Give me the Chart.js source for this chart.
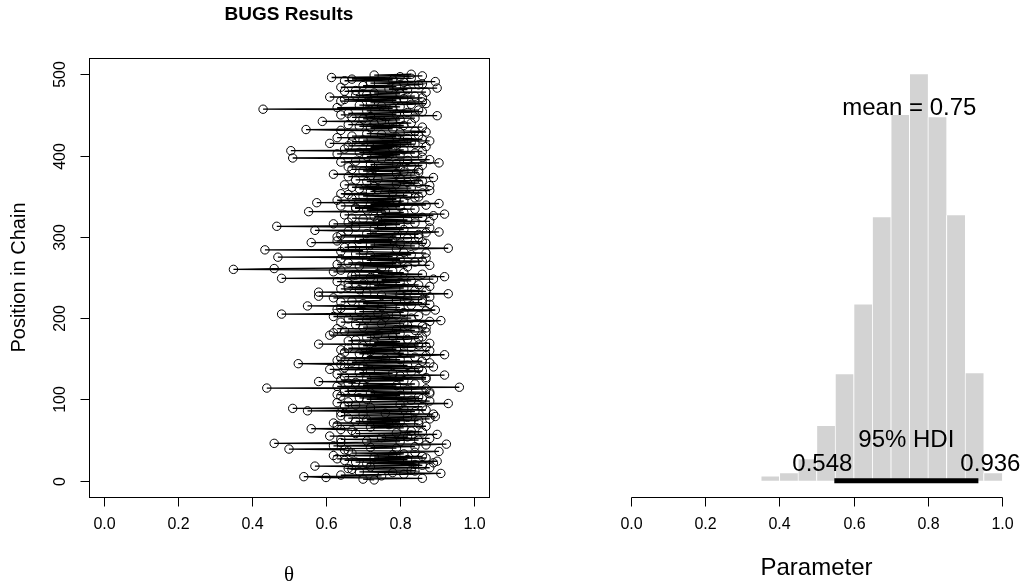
<!DOCTYPE html>
<html>
<head>
<meta charset="utf-8">
<script src="https://cdn.jsdelivr.net/npm/chart.js@4.4.1/dist/chart.umd.min.js"></script>
<style>
    html, body { margin: 0; padding: 0; background: #fff; }
    #wrap { position: relative; width: 1023px; height: 587px; overflow: hidden; }
    #traceChart { position: absolute; left: 0; top: 0; }
    #histChart { position: absolute; left: 511px; top: 0; }
</style>
</head>
<body>
<div id="wrap">
    <canvas id="traceChart" width="511" height="587"></canvas>
    <canvas id="histChart" width="512" height="587"></canvas>
</div>
<script>
// theta samples, position 1..500 in the chain
const thetaSamples = [
    0.73, 0.70, 0.86, 0.60, 0.54, 0.75, 0.64, 0.81, 0.91, 0.78, 0.69, 0.84, 0.83, 0.67, 0.66, 0.88, 0.72, 0.57, 0.86, 0.84,
    0.71, 0.89, 0.68, 0.90, 0.65, 0.82, 0.63, 0.87, 0.73, 0.86, 0.62, 0.78, 0.81, 0.67, 0.84, 0.905, 0.66, 0.65, 0.50, 0.79,
    0.72, 0.84, 0.62, 0.87, 0.925, 0.46, 0.64, 0.80, 0.71, 0.85, 0.64, 0.88, 0.75, 0.82, 0.61, 0.83, 0.90, 0.68, 0.79, 0.86,
    0.83, 0.67, 0.64, 0.56, 0.81, 0.72, 0.87, 0.63, 0.77, 0.85, 0.62, 0.80, 0.68, 0.85, 0.71, 0.88, 0.66, 0.82, 0.895, 0.64,
    0.70, 0.89, 0.76, 0.64, 0.84, 0.55, 0.87, 0.81, 0.51, 0.72, 0.86, 0.65, 0.68, 0.80, 0.93, 0.63, 0.66, 0.88, 0.83, 0.71,
    0.86, 0.69, 0.85, 0.64, 0.80, 0.63, 0.88, 0.72, 0.88, 0.65, 0.67, 0.82, 0.87, 0.44, 0.96, 0.63, 0.79, 0.70, 0.84, 0.66,
    0.68, 0.58, 0.81, 0.64, 0.87, 0.71, 0.87, 0.65, 0.80, 0.92, 0.63, 0.78, 0.69, 0.83, 0.86, 0.72, 0.61, 0.85, 0.65, 0.89,
    0.70, 0.82, 0.64, 0.525, 0.88, 0.67, 0.86, 0.63, 0.80, 0.76, 0.64, 0.84, 0.71, 0.87, 0.92, 0.69, 0.81, 0.65, 0.72, 0.88,
    0.64, 0.79, 0.66, 0.83, 0.87, 0.70, 0.85, 0.58, 0.88, 0.73, 0.80, 0.66, 0.68, 0.82, 0.85, 0.71, 0.86, 0.78, 0.61, 0.74,
    0.80, 0.62, 0.87, 0.65, 0.84, 0.79, 0.63, 0.87, 0.70, 0.86, 0.82, 0.68, 0.75, 0.81, 0.64, 0.88, 0.91, 0.71, 0.66, 0.83,
    0.76, 0.62, 0.85, 0.79, 0.48, 0.74, 0.81, 0.69, 0.87, 0.895, 0.63, 0.64, 0.80, 0.75, 0.55, 0.83, 0.88, 0.70, 0.86, 0.64,
    0.67, 0.79, 0.86, 0.82, 0.62, 0.88, 0.58, 0.75, 0.80, 0.93, 0.71, 0.58, 0.87, 0.84, 0.69, 0.64, 0.81, 0.66, 0.88, 0.73,
    0.85, 0.70, 0.66, 0.80, 0.63, 0.83, 0.75, 0.89, 0.48, 0.72, 0.92, 0.67, 0.68, 0.86, 0.74, 0.81, 0.62, 0.78, 0.64, 0.35,
    0.46, 0.75, 0.82, 0.69, 0.88, 0.63, 0.79, 0.66, 0.84, 0.86, 0.71, 0.80, 0.64, 0.87, 0.47, 0.78, 0.72, 0.83, 0.68, 0.87,
    0.81, 0.64, 0.70, 0.435, 0.79, 0.93, 0.65, 0.67, 0.84, 0.72, 0.80, 0.87, 0.56, 0.86, 0.63, 0.78, 0.69, 0.82, 0.85, 0.63,
    0.79, 0.64, 0.85, 0.71, 0.87, 0.905, 0.66, 0.57, 0.81, 0.73, 0.88, 0.68, 0.467, 0.75, 0.80, 0.62, 0.84, 0.66, 0.88, 0.74,
    0.82, 0.70, 0.67, 0.86, 0.73, 0.89, 0.65, 0.92, 0.75, 0.81, 0.553, 0.76, 0.71, 0.84, 0.68, 0.68, 0.80, 0.64, 0.87, 0.72,
    0.905, 0.575, 0.77, 0.81, 0.63, 0.79, 0.67, 0.84, 0.85, 0.70, 0.82, 0.66, 0.64, 0.86, 0.78, 0.72, 0.88, 0.74, 0.69, 0.83,
    0.67, 0.73, 0.88, 0.65, 0.79, 0.85, 0.82, 0.71, 0.86, 0.68, 0.74, 0.80, 0.89, 0.66, 0.72, 0.84, 0.62, 0.79, 0.85, 0.81,
    0.70, 0.85, 0.67, 0.73, 0.80, 0.66, 0.83, 0.86, 0.72, 0.79, 0.905, 0.64, 0.68, 0.82, 0.88, 0.75, 0.51, 0.86, 0.71, 0.77,
    0.80, 0.63, 0.84, 0.69, 0.86, 0.505, 0.81, 0.65, 0.78, 0.72, 0.87, 0.66, 0.79, 0.84, 0.61, 0.83, 0.67, 0.88, 0.70, 0.86,
    0.82, 0.63, 0.79, 0.67, 0.85, 0.75, 0.71, 0.80, 0.87, 0.84, 0.64, 0.546, 0.78, 0.72, 0.86, 0.69, 0.81, 0.66, 0.73, 0.83,
    0.78, 0.59, 0.75, 0.80, 0.70, 0.84, 0.67, 0.72, 0.90, 0.64, 0.79, 0.66, 0.82, 0.86, 0.71, 0.85, 0.43, 0.78, 0.63, 0.80,
    0.75, 0.69, 0.83, 0.87, 0.72, 0.86, 0.64, 0.79, 0.65, 0.81, 0.86, 0.61, 0.84, 0.68, 0.71, 0.80, 0.73, 0.87, 0.65, 0.68,
    0.82, 0.77, 0.90, 0.64, 0.79, 0.70, 0.85, 0.86, 0.72, 0.81, 0.895, 0.65, 0.78, 0.67, 0.83, 0.615, 0.80, 0.86, 0.73, 0.83
];

// histogram of the posterior (bin centres, density)
const binCenters = [0.375, 0.425, 0.475, 0.525, 0.575, 0.625, 0.675, 0.725, 0.775, 0.825, 0.875, 0.925, 0.975];
const binDensity = [0.04, 0.07, 0.20, 0.51, 0.99, 1.64, 2.45, 3.40, 3.78, 3.38, 2.47, 1.00, 0.07];

const meanValue = 0.75;
const hdiLow = 0.548;
const hdiHigh = 0.936;

const xTicks = [0, 0.2, 0.4, 0.6, 0.8, 1.0];
const xTickLabels = ['0.0', '0.2', '0.4', '0.6', '0.8', '1.0'];
const yTicks = [0, 100, 200, 300, 400, 500];
const yTickLabels = ['0', '100', '200', '300', '400', '500'];

const SANS = '"Liberation Sans", Arial, Helvetica, sans-serif';
const tickFont = '16px ' + SANS;
const TICK_LEN = 9;
const TICK_LABEL_Y = 525;

const line = (ctx, x1, y1, x2, y2) => {
    ctx.beginPath();
    ctx.moveTo(x1, y1);
    ctx.lineTo(x2, y2);
    ctx.stroke();
};

const drawXAxis = (ctx, x, y0, withLine) => {
    ctx.strokeStyle = '#000';
    ctx.lineWidth = 1;
    const px = xTicks.map(t => Math.round(x.getPixelForValue(t)) + 0.5);
    if (withLine) line(ctx, px[0], y0, px[px.length - 1], y0);
    ctx.font = tickFont;
    ctx.fillStyle = '#000';
    ctx.textAlign = 'center';
    ctx.textBaseline = 'middle';
    px.forEach((p, i) => {
        line(ctx, p, y0, p, y0 + TICK_LEN);
        ctx.fillText(xTickLabels[i], p, TICK_LABEL_Y);
    });
};

// frame, axes and labels of the trace plot
const traceFrame = {
    id: 'traceFrame',
    afterDraw(chart) {
        const { ctx, chartArea: a, scales: { x, y } } = chart;
        ctx.save();
        ctx.strokeStyle = '#000';
        ctx.lineWidth = 1;
        const left = Math.round(a.left) + 0.5;
        const top = Math.round(a.top) + 0.5;
        const right = Math.round(a.right) + 0.5;
        const bottom = Math.round(a.bottom) + 0.5;
        ctx.strokeRect(left, top, right - left, bottom - top);

        drawXAxis(ctx, x, bottom, false);

        ctx.font = tickFont;
        yTicks.forEach((t, i) => {
            const p = Math.round(y.getPixelForValue(t)) + 0.5;
            line(ctx, left - TICK_LEN, p, left, p);
            ctx.save();
            ctx.translate(65, p);
            ctx.rotate(-Math.PI / 2);
            ctx.textAlign = 'center';
            ctx.textBaseline = 'alphabetic';
            ctx.fillText(yTickLabels[i], 0, 0);
            ctx.restore();
        });

        // axis titles
        ctx.save();
        ctx.translate(25, (a.top + a.bottom) / 2);
        ctx.rotate(-Math.PI / 2);
        ctx.font = '20px ' + SANS;
        ctx.textAlign = 'center';
        ctx.textBaseline = 'alphabetic';
        ctx.fillText('Position in Chain', 0, 0);
        ctx.restore();

        ctx.font = '21px "Liberation Serif", "DejaVu Serif", serif';
        ctx.textAlign = 'center';
        ctx.textBaseline = 'middle';
        ctx.fillText('\u03B8', (a.left + a.right) / 2, 575);

        ctx.font = 'bold 19px ' + SANS;
        ctx.fillText('BUGS Results', (a.left + a.right) / 2, 15);
        ctx.restore();
    }
};

// axis and text of the posterior histogram
const histFrame = {
    id: 'histFrame',
    afterDraw(chart) {
        const { ctx, chartArea: a, scales: { x, y } } = chart;
        ctx.save();
        drawXAxis(ctx, x, Math.round(a.bottom) + 0.5, true);

        const zero = y.getPixelForValue(0);
        const maxDens = Math.max(...binDensity);
        const textH = 20;
        ctx.font = '24px ' + SANS;
        ctx.fillStyle = '#000';
        ctx.textBaseline = 'alphabetic';
        ctx.textAlign = 'center';
        ctx.fillText('mean = ' + meanValue, x.getPixelForValue(meanValue), y.getPixelForValue(0.9 * maxDens));
        ctx.fillText('95% HDI', x.getPixelForValue((hdiLow + hdiHigh) / 2), zero - 1.7 * textH);

        const lowTxt = String(hdiLow);
        const highTxt = String(hdiHigh);
        const wLow = ctx.measureText(lowTxt).width;
        const wHigh = ctx.measureText(highTxt).width;
        ctx.textAlign = 'left';
        ctx.fillText(lowTxt, x.getPixelForValue(hdiLow) - 0.7 * wLow, zero - 0.5 * textH);
        ctx.fillText(highTxt, x.getPixelForValue(hdiHigh) - 0.3 * wHigh, zero - 0.5 * textH);

        ctx.textAlign = 'center';
        ctx.textBaseline = 'middle';
        ctx.fillText('Parameter', (a.left + a.right) / 2, 568);
        ctx.restore();
    }
};

new Chart(document.getElementById('traceChart'), {
    type: 'scatter',
    data: {
        datasets: [{
            data: thetaSamples.map((v, i) => ({ x: v, y: i + 1 })),
            showLine: true,
            borderColor: '#000',
            borderWidth: 1.3,
            pointRadius: 4.2,
            pointBorderWidth: 1,
            pointBorderColor: '#000',
            pointBackgroundColor: 'rgba(0,0,0,0)'
        }]
    },
    options: {
        responsive: false,
        animation: false,
        layout: { padding: { left: 89, right: 22, top: 58, bottom: 90 } },
        plugins: { legend: { display: false }, tooltip: { enabled: false } },
        scales: {
            x: { type: 'linear', min: -0.04, max: 1.04, display: false },
            y: { type: 'linear', min: -20, max: 520, display: false }
        }
    },
    plugins: [traceFrame]
});

const maxDensity = Math.max(...binDensity);

new Chart(document.getElementById('histChart'), {
    type: 'bar',
    data: {
        datasets: [
            {
                type: 'bar',
                data: binCenters.map((c, i) => ({ x: c, y: binDensity[i] })),
                backgroundColor: '#d3d3d3',
                borderColor: '#ffffff',
                borderWidth: { left: 1, right: 0, top: 0, bottom: 0 },
                borderSkipped: false,
                barPercentage: 1,
                categoryPercentage: 1,
                order: 2
            },
            {
                type: 'line',
                data: [{ x: hdiLow, y: 0 }, { x: hdiHigh, y: 0 }],
                borderColor: '#000',
                borderWidth: 5,
                borderCapStyle: 'butt',
                pointRadius: 0,
                order: 1
            }
        ]
    },
    options: {
        responsive: false,
        animation: false,
        layout: { padding: { left: 105, right: 6, top: 58, bottom: 90 } },
        plugins: { legend: { display: false }, tooltip: { enabled: false } },
        scales: {
            x: { type: 'linear', min: -0.04, max: 1.04, offset: false, display: false },
            y: { type: 'linear', min: -0.04 * maxDensity, max: 1.04 * maxDensity, display: false }
        }
    },
    plugins: [histFrame]
});
</script>
</body>
</html>
